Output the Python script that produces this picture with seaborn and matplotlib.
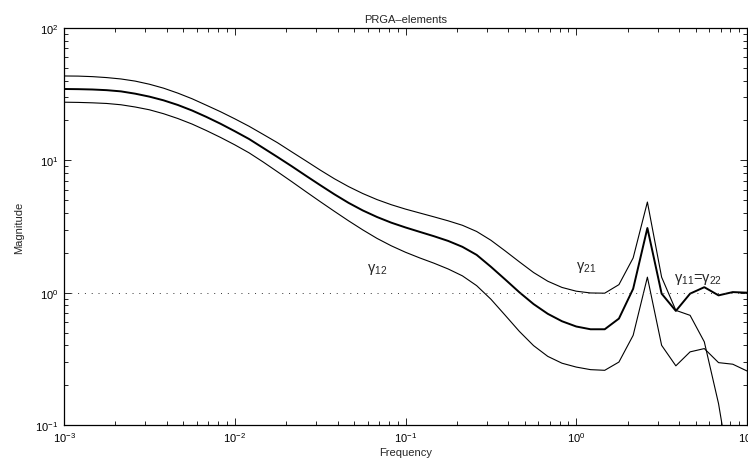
import numpy as np
import pandas as pd
import matplotlib
matplotlib.use("Agg")
import matplotlib.pyplot as plt
from matplotlib.ticker import LogLocator, NullFormatter
import seaborn as sns

# Frequency grid (rad/s), 12 points per decade from 1e-3 to 1e1
freq = [0.001, 0.001212, 0.001468, 0.001778, 0.002154, 0.002610, 0.003162, 0.003831,
        0.004642, 0.005623, 0.006813, 0.008254, 0.01, 0.01212, 0.01468, 0.01778,
        0.02154, 0.02610, 0.03162, 0.03831, 0.04642, 0.05623, 0.06813, 0.08254,
        0.1, 0.1212, 0.1468, 0.1778, 0.2154, 0.2610, 0.3162, 0.3831,
        0.4642, 0.5623, 0.6813, 0.8254, 1.0, 1.212, 1.468, 1.778,
        2.154, 2.610, 3.162, 3.831, 4.642, 5.623, 6.813, 8.254, 10.0]

# PRGA element magnitudes
gamma_21 = [43.4, 43.3, 42.9, 42.2, 41.2, 39.7, 37.6, 35.1,
            32.2, 29.2, 26.1, 23.3, 20.6, 18.1, 15.7, 13.6,
            11.6, 9.91, 8.45, 7.26, 6.33, 5.61, 5.05, 4.62,
            4.28, 4.00, 3.74, 3.49, 3.23, 2.90, 2.49, 2.07,
            1.71, 1.42, 1.22, 1.095, 1.026, 0.995, 0.991, 1.15,
            1.83, 4.84, 1.31, 0.735, 0.674, 0.425, 0.145, 0.033, 0.0098]

gamma_11 = [34.6, 34.5, 34.3, 33.9, 33.2, 31.9, 30.3, 28.4,
            26.2, 23.8, 21.3, 18.9, 16.6, 14.5, 12.4, 10.6,
            9.03, 7.65, 6.50, 5.54, 4.77, 4.18, 3.73, 3.38,
            3.11, 2.88, 2.67, 2.46, 2.22, 1.93, 1.57, 1.26,
            1.007, 0.820, 0.692, 0.608, 0.555, 0.529, 0.529, 0.637,
            1.07, 3.08, 0.983, 0.728, 0.983, 1.10, 0.954, 1.01, 1.0]

gamma_12 = [27.5, 27.4, 27.2, 26.9, 26.3, 25.3, 24.1, 22.5,
            20.7, 18.8, 16.8, 14.9, 13.1, 11.4, 9.71, 8.20,
            6.91, 5.80, 4.88, 4.12, 3.49, 2.98, 2.57, 2.26,
            2.02, 1.83, 1.67, 1.51, 1.34, 1.13, 0.893, 0.676,
            0.510, 0.398, 0.330, 0.293, 0.274, 0.262, 0.259, 0.299,
            0.476, 1.31, 0.400, 0.280, 0.357, 0.378, 0.296, 0.288, 0.256]

sns.set_style("ticks")
plt.rcParams["font.family"] = ["Liberation Sans", "DejaVu Sans"]
plt.rcParams["mathtext.fontset"] = "custom"
plt.rcParams["mathtext.rm"] = "Liberation Sans"
plt.rcParams["mathtext.it"] = "Liberation Sans:italic"
plt.rcParams["mathtext.bf"] = "Liberation Sans:bold"

df = pd.DataFrame({
    "freq": freq * 3,
    "mag": gamma_21 + gamma_11 + gamma_12,
    "element": ["g21"] * len(freq) + ["g11"] * len(freq) + ["g12"] * len(freq),
})

fig = plt.figure(figsize=(7.48, 4.60), dpi=100)
ax = fig.add_axes([64 / 748, 1 - 426 / 460, (747 - 64) / 748, (426 - 29) / 460])

widths = {"g21": 0.8, "g11": 1.4, "g12": 0.8}
for name, lw in widths.items():
    sub = df[df["element"] == name]
    sns.lineplot(data=sub, x="freq", y="mag", ax=ax, color="black",
                 linewidth=lw, estimator=None, legend=False)

# unity reference
ax.axhline(1.0, color="0.2", linewidth=0.7, linestyle=(0, (1, 6)))

ax.set_xscale("log")
ax.set_yscale("log")
ax.set_xlim(1e-3, 10)
ax.set_ylim(0.1, 100)

for axis in (ax.xaxis, ax.yaxis):
    axis.set_major_locator(LogLocator(base=10))
    axis.set_minor_locator(LogLocator(base=10, subs=np.arange(2, 10), numticks=50))
    axis.set_minor_formatter(NullFormatter())

ax.tick_params(which="both", direction="in", top=True, right=True,
               colors="black", width=0.6, labelsize=8)
ax.tick_params(which="major", length=5, pad=4)
ax.tick_params(which="minor", length=3)
for sp in ax.spines.values():
    sp.set_visible(True)
    sp.set_color("black")
    sp.set_linewidth(0.9)

ax.set_title("PRGA\u2013elements", fontsize=8, pad=4)
ax.set_xlabel("Frequency", fontsize=8, labelpad=2)
ax.set_ylabel("Magnitude", fontsize=8, labelpad=8)

ax.text(0.068, 1.52, "\u03b3$_{12}$", fontsize=10.5, ha="center", va="center")
ax.text(1.15, 1.57, "\u03b3$_{21}$", fontsize=10.5, ha="center", va="center")
ax.text(5.2, 1.27, "\u03b3$_{11}$=\u03b3$_{22}$", fontsize=10.5, ha="center", va="center")

fig.savefig("out.png", dpi=100)
